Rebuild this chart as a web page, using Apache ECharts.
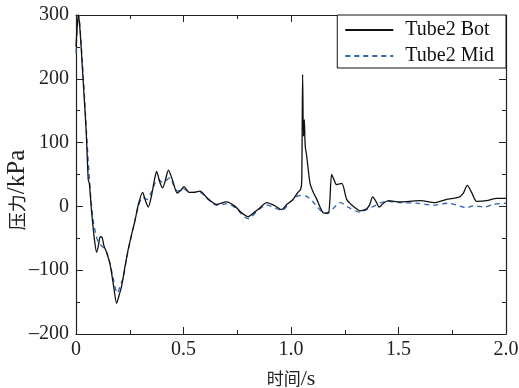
<!DOCTYPE html>
<html>
<head>
<meta charset="utf-8">
<script src="https://cdn.jsdelivr.net/npm/echarts@6/dist/echarts.min.js"></script>
<style>
  html, body { margin: 0; padding: 0; background: #fff; }
  #chart { width: 519px; height: 388px; }
</style>
</head>
<body>
<div id="chart"></div>
<script>
// Pressure traces (kPa) against time (s)
const seriesNames = ['Tube2 Bot', 'Tube2 Mid'];

const botTime = [0, 0.006, 0.012, 0.02, 0.03, 0.04, 0.047, 0.052, 0.057, 0.062, 0.066, 0.073, 0.085, 0.096, 0.104, 0.112, 0.12, 0.13, 0.14, 0.158, 0.175, 0.189, 0.2, 0.212, 0.225, 0.243, 0.26, 0.274, 0.29, 0.31, 0.322, 0.336, 0.35, 0.365, 0.375, 0.39, 0.403, 0.415, 0.43, 0.45, 0.471, 0.49, 0.502, 0.527, 0.55, 0.577, 0.608, 0.654, 0.70, 0.74, 0.77, 0.80, 0.83, 0.856, 0.887, 0.92, 0.957, 0.98, 1.01, 1.03, 1.045, 1.05, 1.054, 1.058, 1.062, 1.066, 1.073, 1.088, 1.10, 1.12, 1.15, 1.173, 1.18, 1.189, 1.20, 1.212, 1.236, 1.259, 1.28, 1.298, 1.32, 1.35, 1.365, 1.38, 1.395, 1.41, 1.43, 1.453, 1.507, 1.55, 1.60, 1.67, 1.724, 1.778, 1.80, 1.82, 1.84, 1.864, 1.91, 1.957, 2.0];
const botValue = [250, 285, 300, 270, 215, 160, 120, 80, 42, 36, 20, -10, -50, -72, -62, -48, -48, -62, -70, -90, -125, -152, -140, -125, -100, -67, -42, -23, 3, 22, 10, -1, 15, 42, 55, 38, 29, 40, 57, 40, 21, 26, 31, 22, 22, 24, 14, 3, 7, 0, -10, -16, -9, -2, 6, 2, -5, 3, 11, 21, 27, 40, 207, 110, 136, 95, 79, 37, 25, 11, -10, -11, 5, 50, 42, 34, 36, 11, 3, -2, -7, -4, 2, 15, 8, -1, 5, 9, 7, 8, 9, 6, 11, 14, 20, 33, 22, 8, 9, 12.5, 12.5];

const midTime = [0, 0.006, 0.012, 0.02, 0.03, 0.04, 0.05, 0.06, 0.07, 0.08, 0.09, 0.104, 0.12, 0.14, 0.155, 0.174, 0.192, 0.21, 0.22, 0.235, 0.25, 0.27, 0.29, 0.31, 0.33, 0.35, 0.37, 0.383, 0.40, 0.415, 0.437, 0.455, 0.471, 0.50, 0.527, 0.577, 0.608, 0.654, 0.70, 0.74, 0.80, 0.85, 0.887, 0.957, 1.00, 1.04, 1.07, 1.10, 1.12, 1.158, 1.18, 1.20, 1.228, 1.27, 1.32, 1.37, 1.445, 1.507, 1.585, 1.66, 1.73, 1.817, 1.85, 1.9, 1.94, 2.0];
const midValue = [240, 280, 300, 275, 225, 170, 110, 55, 10, -22, -40, -57, -62, -70, -85, -114, -136, -120, -112, -82, -58, -28, 0, 14, 11, 22, 38, 42, 38, 40, 45, 32, 24, 28, 22, 22, 13, 2, 4, -2, -19, -5, 2, -6, 8, 17, 16, 8, 0, -11, -8, -2, 6, -2, -9, -2, 8, 6, 5, 2, 5, -2, 1, -1, 3, 5];

// Axis titles: Chinese part and unit part
const xAxisName = ['时间', '/s'];
const yAxisName = ['压力', '/kPa'];

const serif = '"Liberation Serif", "DejaVu Serif", serif';
const cjk = '"Noto Sans CJK SC", sans-serif';
const axisColor = '#222';

function pairs(xs, ys) {
  return xs.map((x, i) => [x, ys[i]]);
}

const chart = echarts.init(document.getElementById('chart'), null, { renderer: 'canvas' });

const baseX = {
  type: 'value', min: 0, max: 2, interval: 0.5,
  axisLine: { show: true, onZero: false, lineStyle: { color: axisColor, width: 1.2 } },
  axisTick: { show: true, inside: true, length: 7, lineStyle: { color: axisColor, width: 1 } },
  minorTick: { show: true, splitNumber: 2, length: 4, lineStyle: { color: axisColor, width: 1 } },
  splitLine: { show: false }
};
const baseY = {
  type: 'value', min: -200, max: 300, interval: 100,
  axisLine: { show: true, onZero: false, lineStyle: { color: axisColor, width: 1.2 } },
  axisTick: { show: true, inside: true, length: 7, lineStyle: { color: axisColor, width: 1 } },
  minorTick: { show: true, splitNumber: 2, length: 4, lineStyle: { color: axisColor, width: 1 } },
  splitLine: { show: false }
};

chart.setOption({
  backgroundColor: '#fff',
  animation: false,
  grid: { left: 76, right: 13, top: 15, bottom: 54, containLabel: false, outerBoundsMode: 'none' },
  legend: {
    orient: 'vertical',
    right: 13, top: 15,
    backgroundColor: '#fff',
    borderColor: '#111', borderWidth: 1, borderRadius: 0,
    padding: [5, 12, 2, 7],
    itemWidth: 48, itemHeight: 14, itemGap: 6,
    itemStyle: { color: 'transparent', borderWidth: 0, opacity: 0 },
    textStyle: { fontFamily: serif, fontSize: 20, color: '#111', padding: [0, 0, 0, 7] },
    data: seriesNames
  },
  xAxis: [
    Object.assign({}, baseX, {
      position: 'bottom',
      name: '{c|' + xAxisName[0] + '}{l|' + xAxisName[1] + '}',
      nameLocation: 'middle', nameGap: 34, nameMoveOverlap: false,
      nameTextStyle: {
        color: axisColor,
        rich: {
          c: { fontFamily: cjk, fontSize: 17, color: axisColor },
          l: { fontFamily: serif, fontSize: 22, color: axisColor }
        }
      },
      axisLabel: { fontFamily: serif, fontSize: 20, color: axisColor, margin: 6,
        formatter: v => v === 0 ? '0' : v.toFixed(1) }
    }),
    Object.assign({}, baseX, { position: 'top', axisLabel: { show: false } })
  ],
  yAxis: [
    Object.assign({}, baseY, {
      position: 'left',
      name: '{c|' + yAxisName[0] + '}{l|' + yAxisName[1] + '}',
      nameLocation: 'middle', nameGap: 46, nameMoveOverlap: false,
      nameTextStyle: {
        color: axisColor, padding: [0, 31, 0, 0],
        rich: {
          c: { fontFamily: cjk, fontSize: 18, color: axisColor },
          l: { fontFamily: serif, fontSize: 25, color: axisColor }
        }
      },
      axisLabel: { fontFamily: serif, fontSize: 20, color: axisColor, margin: 7,
        formatter: v => v < 0 ? '\u2013' + Math.abs(v) : String(v) }
    }),
    Object.assign({}, baseY, { position: 'right', axisLabel: { show: false } })
  ],
  series: [
    {
      name: seriesNames[0], type: 'line', symbol: 'none', showSymbol: false, smooth: 0.25,
      data: pairs(botTime, botValue),
      lineStyle: { color: '#111', width: 1.3 }, itemStyle: { color: '#111' },
      z: 3
    },
    {
      name: seriesNames[1], type: 'line', symbol: 'none', showSymbol: false, smooth: 0.3,
      data: pairs(midTime, midValue),
      lineStyle: { color: '#2c62b8', width: 1.3, type: [5, 4] }, itemStyle: { color: '#2c62b8' },
      z: 2
    }
  ]
});
</script>
</body>
</html>
